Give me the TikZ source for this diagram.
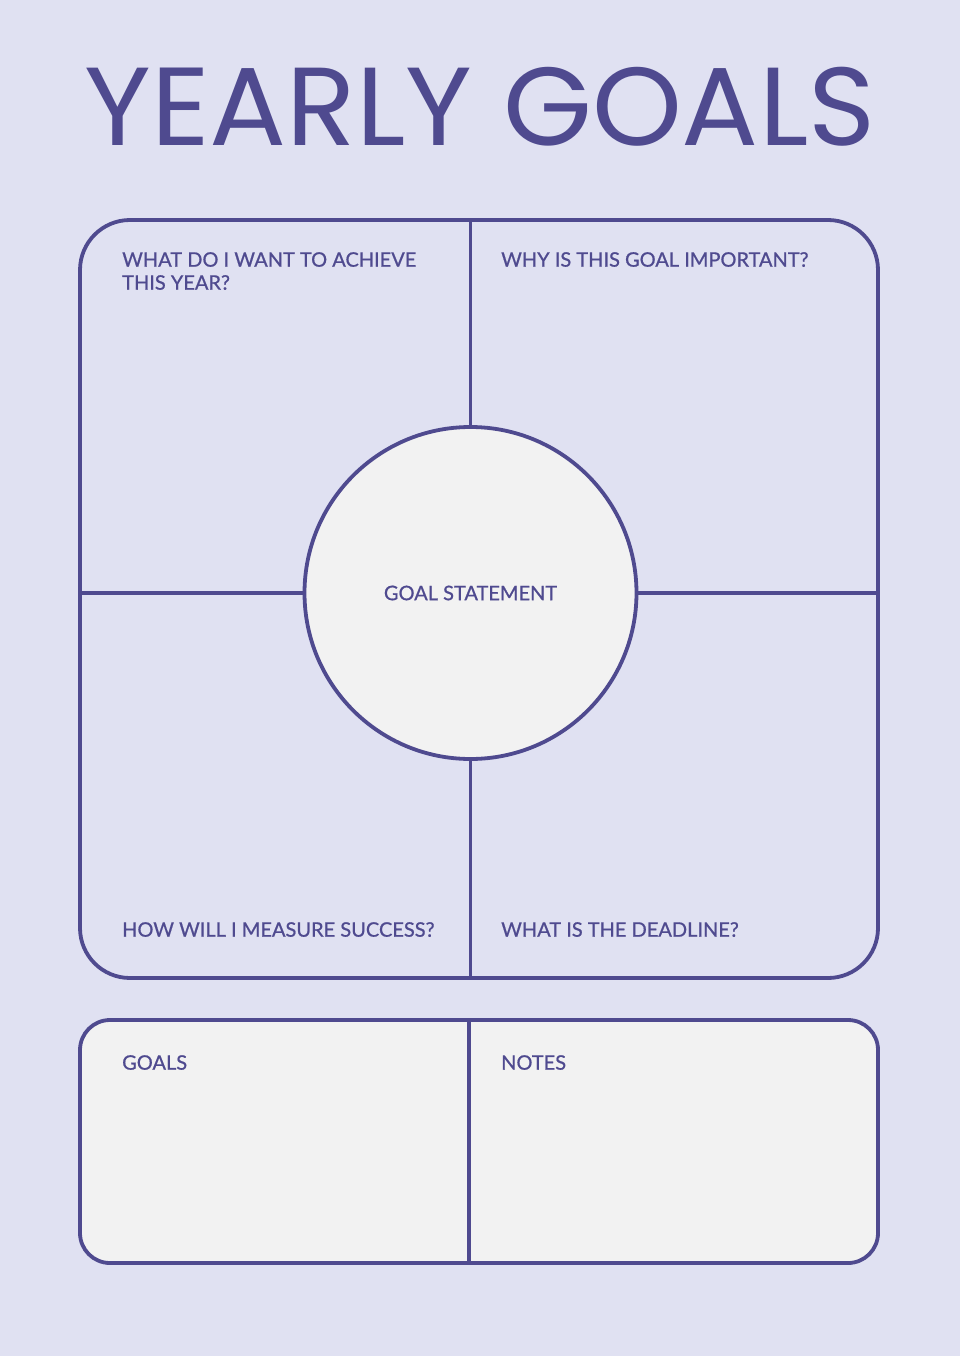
\documentclass[tikz,border=0pt]{standalone}
\usepackage{fontspec}
\setmainfont{Lato}
\newfontfamily\labelfont{Lato}[FakeBold=0.8]
\newfontfamily\titlefont{Poppins}
\usetikzlibrary{positioning}
\definecolor{pagebg}{HTML}{E0E1F2}
\definecolor{ink}{HTML}{4F4A8F}
\definecolor{paper}{HTML}{F2F2F2}

\begin{document}
\begin{tikzpicture}[x=1pt, y=-1pt,
    frame/.style={draw=ink, line width=3.8pt},
    label/.style={text=ink, font=\labelfont\fontsize{20}{23}\selectfont, inner sep=0pt, align=left, anchor=north west}]
    % Page
    \fill[pagebg] (0,0) rectangle (960,1356);
    \useasboundingbox (0,0) rectangle (960,1356);

    % Title
    \node[text=ink, font=\titlefont\fontsize{111}{111}\selectfont, anchor=base, inner sep=0pt] (title) at (480,146) {\scalebox{1.03}[1]{YEARLY GOALS}};

    % Big box with four quarters
    \draw[frame, rounded corners=50pt] (80,220) rectangle (878,978);
    \coordinate (top) at (470.5,220);
    \coordinate (bottom) at (470.5,978);
    \coordinate (left) at (80,593);
    \coordinate (right) at (878,593);

    % Circle in the middle
    \node[frame, circle, fill=paper, minimum size=332pt, inner sep=0pt, text=ink, font=\labelfont\fontsize{20}{23}\selectfont] (goal) at (470.5,593) {GOAL STATEMENT};
    \draw[frame] (top) -- (goal.north);
    \draw[frame] (bottom) -- (goal.south);
    \draw[frame] (left) -- (goal.west);
    \draw[frame] (right) -- (goal.east);

    % Quarter labels
    \node[label] (achieve) at (122,252) {WHAT DO I WANT TO ACHIEVE\\THIS YEAR?};
    \node[label] (why) at (501,252) {WHY IS THIS GOAL IMPORTANT?};
    \node[label] (measure) at (122,922) {HOW WILL I MEASURE SUCCESS?};
    \node[label] (deadline) at (501,922) {WHAT IS THE DEADLINE?};

    % Bottom box
    \draw[frame, fill=paper, rounded corners=30pt] (80,1020) rectangle (878,1263);
    \coordinate (midtop) at (469,1020);
    \coordinate (midbottom) at (469,1263);
    \draw[frame] (midtop) -- (midbottom);
    \node[label] (goals) at (122,1055) {GOALS};
    \node[label] (notes) at (501,1055) {NOTES};
\end{tikzpicture}
\end{document}
